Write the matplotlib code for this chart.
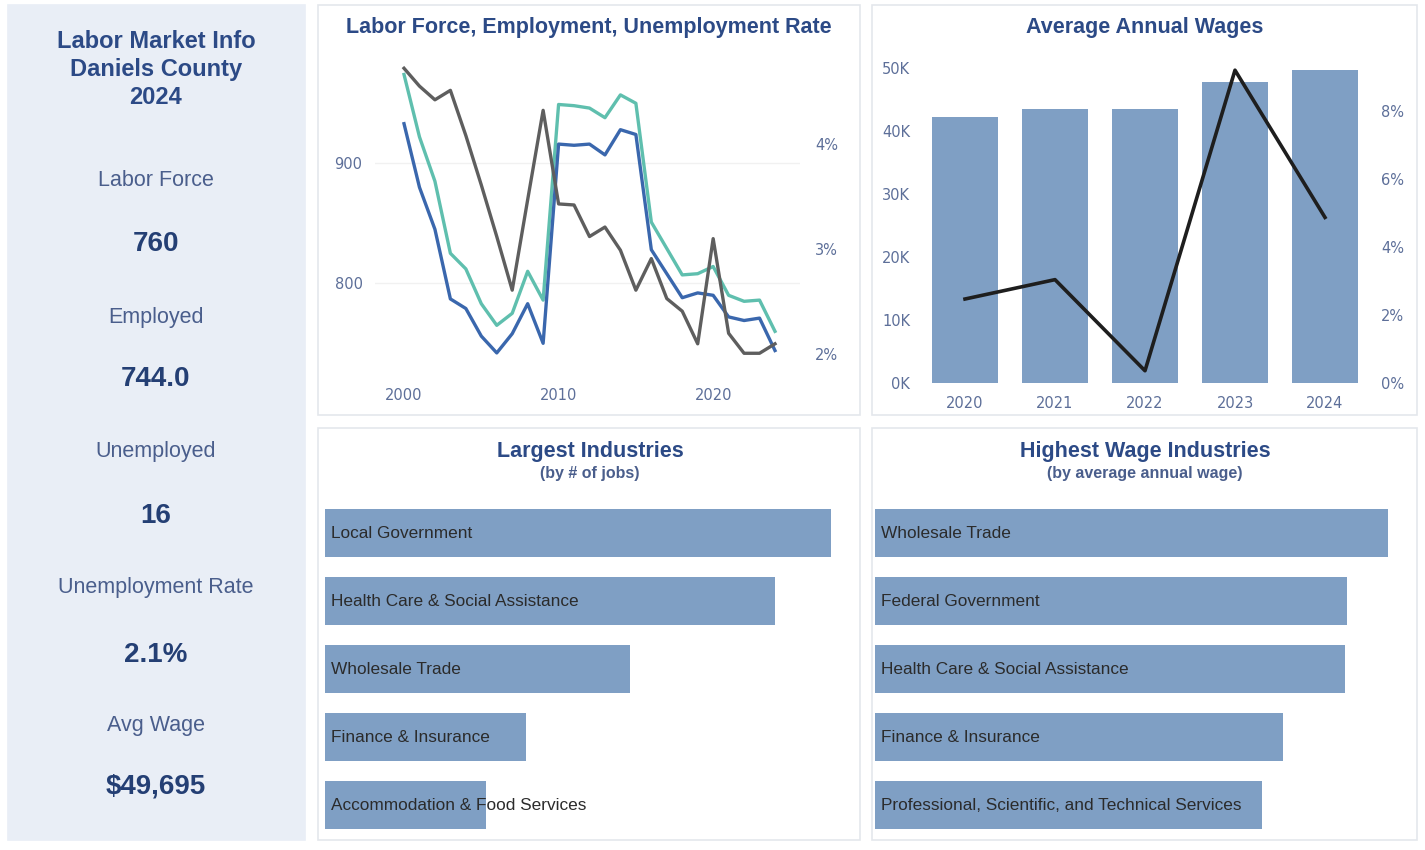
import matplotlib
matplotlib.use("Agg")
import matplotlib.pyplot as plt
from matplotlib.patches import Rectangle
from matplotlib.ticker import FuncFormatter

# ---------------- data ----------------
years = list(range(2000, 2025))
labor_force = [974, 922, 885, 825, 812, 783, 765, 775, 810, 786, 949, 948, 946, 938, 957, 950,
               851, 829, 807, 808, 814, 790, 785, 786, 760]
employed = [933, 880, 845, 787, 779, 756, 742, 758, 783, 750, 916, 915, 916, 907, 928, 924,
            828, 808, 788, 792, 790, 772, 769, 771, 744]
unemp_rate = [4.72, 4.55, 4.42, 4.51, 4.08, 3.61, 3.12, 2.61, 3.47, 4.32, 3.43, 3.42, 3.12, 3.21,
              2.99, 2.61, 2.91, 2.53, 2.41, 2.10, 3.10, 2.20, 2.01, 2.01, 2.10]

wage_years = ["2020", "2021", "2022", "2023", "2024"]
avg_wage = [42200, 43500, 43500, 47700, 49695]
wage_growth = [2.47, 3.04, 0.36, 9.2, 4.87]

largest_ind = ["Local Government", "Health Care & Social Assistance", "Wholesale Trade",
               "Finance & Insurance", "Accommodation & Food Services"]
largest_jobs = [126, 112, 76, 50, 40]

wage_ind = ["Wholesale Trade", "Federal Government", "Health Care & Social Assistance",
            "Finance & Insurance", "Professional, Scientific, and Technical Services"]
wage_ind_vals = [76000, 69900, 69600, 60400, 57300]

kpi_labels = ["Labor Force", "Employed", "Unemployed", "Unemployment Rate", "Avg Wage"]
kpi_values = ["760", "744.0", "16", "2.1%", "$49,695"]

# ---------------- style ----------------
plt.rcParams["font.family"] = ["Liberation Sans", "DejaVu Sans"]
W, H = 1425, 850
TITLE = "#2c4a86"
TICK = "#5d6f99"
BAR = "#7f9fc4"
TEAL = "#5fbfae"
BLUE = "#3a67ad"
GRAY = "#5e5e5e"
TICKFONT = dict(family="DejaVu Sans", size=10.5)

fig = plt.figure(figsize=(W / 100, H / 100), dpi=100)
fig.patch.set_facecolor("white")


def box(x0, y0, x1, y1):
    return [x0 / W, 1 - y1 / H, (x1 - x0) / W, (y1 - y0) / H]


def panel(x0, y0, x1, y1, fc="white", ec="#e4e7ec"):
    fig.add_artist(Rectangle((x0 / W, 1 - y1 / H), (x1 - x0) / W, (y1 - y0) / H,
                             transform=fig.transFigure, facecolor=fc, edgecolor=ec,
                             linewidth=1.2, zorder=0))


def ftext(x, y, s, **kw):
    fig.text(x / W, 1 - y / H, s, ha="center", va="center", **kw)


def style_ticks(a):
    for lab in a.get_xticklabels() + a.get_yticklabels():
        lab.set_fontfamily(TICKFONT["family"])
        lab.set_fontsize(TICKFONT["size"])
        lab.set_color(TICK)


# panels
panel(8, 5, 305, 840, fc="#e9eef6", ec="#e9eef6")
panel(318, 5, 860, 415)
panel(872, 5, 1417, 415)
panel(318, 428, 860, 840)
panel(872, 428, 1417, 840)

# ---------------- left KPI panel ----------------
for i, line in enumerate(["Labor Market Info", "Daniels County", "2024"]):
    ftext(156, 41 + i * 28.5, line, fontsize=17, fontweight="bold", color=TITLE)
label_y = [181, 317, 452, 588, 725]
value_y = [244, 379, 516, 655, 787]
for lab, val, ly, vy in zip(kpi_labels, kpi_values, label_y, value_y):
    ftext(156, ly, lab, fontsize=15.5, color="#4a5e8c")
    ftext(156, vy, val, fontsize=20, fontweight="bold", color="#243f74")

# ---------------- line chart ----------------
ftext(589, 28, "Labor Force, Employment, Unemployment Rate", fontsize=15.5,
      fontweight="bold", color=TITLE)
ax = fig.add_axes(box(375, 65, 800, 360))
ax.plot(years, labor_force, color=TEAL, lw=2.4, zorder=3)
ax.plot(years, employed, color=BLUE, lw=2.4, zorder=3)
ax.set_xlim(2000 - (404 - 375) / 15.45, 2024 + (800 - 775) / 15.45)
ax.set_ylim(736.1, 981.9)
ax.set_yticks([800, 900])
ax.set_xticks([2000, 2010, 2020])
ax.grid(axis="y", color="#f1f1f1", lw=1)
ax.set_axisbelow(True)
ax2 = ax.twinx()
ax2.plot(years, unemp_rate, color=GRAY, lw=2.4, zorder=2)
ax2.set_ylim(1.946, 4.751)
ax2.set_yticks([2, 3, 4])
ax2.yaxis.set_major_formatter(FuncFormatter(lambda v, p: f"{v:.0f}%"))
for a in (ax, ax2):
    for s in a.spines.values():
        s.set_visible(False)
    a.tick_params(length=0)
    a.patch.set_alpha(0)
    style_ticks(a)
ax.tick_params(axis="x", pad=20)
ax.tick_params(axis="y", pad=9)
ax2.tick_params(axis="y", pad=11)

# ---------------- wage chart ----------------
ftext(1145, 28, "Average Annual Wages", fontsize=15.5, fontweight="bold", color=TITLE)
bx = fig.add_axes(box(920, 60, 1370, 383))
xpos = list(range(len(wage_years)))
bx.bar(xpos, avg_wage, width=0.74, color=BAR, zorder=2)
bx.set_xlim(-0.5, 4.5)
bx.set_ylim(0, 51270)
bx.set_xticks(xpos)
bx.set_xticklabels(wage_years)
bx.set_yticks(range(0, 50001, 10000))
bx.yaxis.set_major_formatter(FuncFormatter(lambda v, p: f"{v/1000:.0f}K"))
bx2 = bx.twinx()
bx2.plot(xpos, wage_growth, color="#1e1e1e", lw=2.6, zorder=3)
bx2.set_ylim(0, 9.5)
bx2.set_yticks([0, 2, 4, 6, 8])
bx2.yaxis.set_major_formatter(FuncFormatter(lambda v, p: f"{v:.0f}%"))
for a in (bx, bx2):
    for s in a.spines.values():
        s.set_visible(False)
    a.tick_params(length=0)
    a.patch.set_alpha(0)
    style_ticks(a)
bx.tick_params(axis="x", pad=9)
bx.tick_params(axis="y", pad=7)
bx2.tick_params(axis="y", pad=8)

# ---------------- bottom bar charts ----------------
def hbars(x0, x1, names, vals, xmax, title, subtitle, cx):
    ftext(cx, 452, title, fontsize=15.5, fontweight="bold", color=TITLE)
    ftext(cx, 473, subtitle, fontsize=11.5, fontweight="bold", color="#4a5e8c")
    a = fig.add_axes(box(x0, 499, x1, 839))
    ypos = list(range(len(names)))
    a.barh(ypos, vals, height=0.72, color=BAR, zorder=2)
    a.set_ylim(len(names) - 0.5, -0.5)
    a.set_xlim(0, xmax)
    a.axis("off")
    for yp, nm in zip(ypos, names):
        a.text(xmax * 6 / (x1 - x0), yp, nm, ha="left", va="center", fontsize=12.4,
               color="#2b2b2b", zorder=3)

hbars(325, 855, largest_ind, largest_jobs, 132, "Largest Industries", "(by # of jobs)", 590)
hbars(875, 1405, wage_ind, wage_ind_vals, 78500, "Highest Wage Industries",
      "(by average annual wage)", 1145)

fig.savefig("out.png", dpi=100, facecolor="white")
